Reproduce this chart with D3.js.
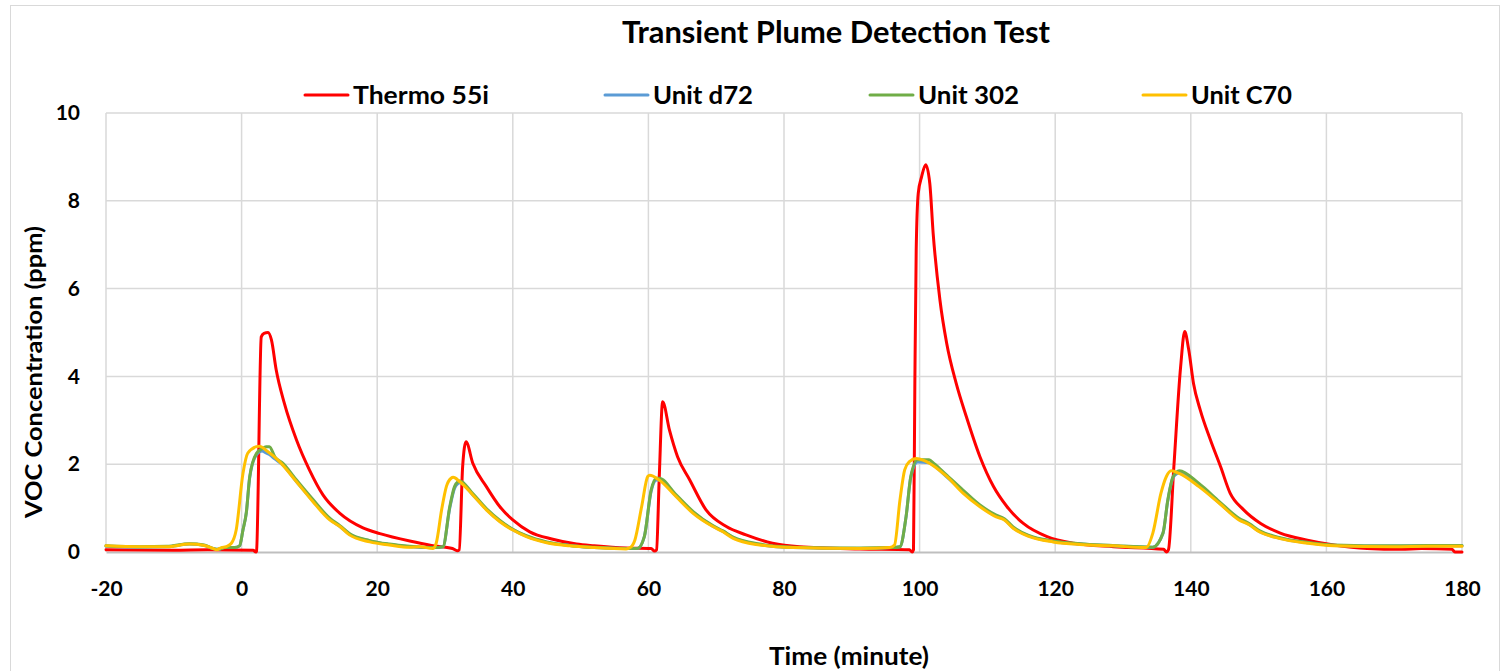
<!DOCTYPE html>
<html>
<head>
<meta charset="utf-8">
<script src="https://cdn.jsdelivr.net/npm/d3@7"></script>
<style>
  html, body { margin: 0; padding: 0; background: #fff; }
  svg { display: block; font-family: Lato, "Open Sans", sans-serif; }
</style>
</head>
<body>
<svg id="chart" width="1502" height="671"></svg>
<script>
// ---------------- DATA ----------------
const chartTitle = "Transient Plume Detection Test";
const xAxisTitle = "Time (minute)";
const yAxisTitle = "VOC Concentration (ppm)";
const xTicks = [-20, 0, 20, 40, 60, 80, 100, 120, 140, 160, 180];
const yTicks = [0, 2, 4, 6, 8, 10];
const seriesNames = ["Thermo 55i", "Unit d72", "Unit 302", "Unit C70"];
const seriesColors = ["#ff0000", "#5b9bd5", "#70ad47", "#ffc000"];

const thermoTime = [-20,-10,-5,1.7,2.1,2.2,2.9,3.3,3.9,4.4,5.1,6.3,8.1,10,12,14.5,17.9,20.4,24.8,28,31.1,31.8,32.1,32.6,33.1,34.1,36.1,38.1,40,42.5,45.9,49.4,52,56.7,60.4,60.9,61.2,61.6,62.1,63.1,64.3,66.1,68.5,71.5,74.4,78.3,82.3,91.2,98.5,98.9,99.1,99.3,99.5,99.8,100.3,100.9,101.5,102,103,104,105.4,106.9,108.9,110.9,112.9,115.3,118.8,122.7,128.6,136,136.4,136.7,137.5,138.5,139.1,139.7,140.4,141.4,142.9,144.4,145.8,147.8,150.3,153.2,157.2,161.1,166,171,174,178.5,179,180];
const thermoValue = [0.05,0.04,0.05,0.04,0.0,0.02,4.9,4.98,5.0,4.83,4.15,3.39,2.55,1.87,1.3,0.88,0.55,0.42,0.25,0.15,0.08,0.03,0.05,1.94,2.51,2.02,1.49,1.03,0.73,0.46,0.29,0.18,0.14,0.09,0.08,0.02,0.05,1.7,3.42,2.78,2.17,1.64,0.96,0.58,0.39,0.2,0.12,0.07,0.05,0.0,0.05,3.85,6.88,8.17,8.55,8.82,8.4,7.26,5.74,4.75,3.84,3.08,2.17,1.49,1.03,0.65,0.35,0.2,0.12,0.06,0.0,0.05,1.94,4.22,5.02,4.6,3.84,3.23,2.55,1.94,1.34,0.96,0.65,0.43,0.27,0.16,0.08,0.06,0.08,0.06,0.0,0.0];

const d72Time = [-20,-15,-11,-7.7,-5.5,-4.2,-3.5,-2.5,-1.0,-0.3,0.2,0.7,1.2,2.2,3.0,3.6,4.1,4.9,6.1,8.1,10.5,13,14.5,15.9,18.9,21.8,24.8,28.5,29.7,30.7,31.4,31.9,32.2,34.1,36.1,38.1,40,42,45,48.4,52,57,58.4,59.4,60.4,61.2,61.6,64.1,66.6,69.5,71,72.5,76.4,81.3,91.2,96,97.1,98,98.7,99.7,101.4,102.1,104,106.4,108.9,111.3,112.5,113.8,116.2,119.7,123.6,128.5,134.4,135.9,136.6,137.4,138.3,141.2,144.2,147.1,148.6,150.1,153,157.2,161.1,170,175,180];
const d72Value = [0.13,0.11,0.12,0.18,0.15,0.08,0.06,0.1,0.1,0.14,0.5,0.9,1.7,2.22,2.3,2.26,2.22,2.12,1.98,1.6,1.17,0.75,0.58,0.41,0.25,0.17,0.12,0.1,0.12,1.0,1.45,1.56,1.58,1.3,0.97,0.7,0.51,0.36,0.22,0.15,0.1,0.08,0.08,0.35,1.38,1.64,1.64,1.27,0.9,0.59,0.47,0.33,0.17,0.1,0.08,0.1,0.12,0.8,1.7,2.05,2.03,1.97,1.71,1.38,1.05,0.82,0.74,0.55,0.36,0.24,0.18,0.14,0.11,0.43,1.16,1.7,1.8,1.52,1.12,0.75,0.63,0.47,0.32,0.21,0.15,0.13,0.14,0.14];

const u302Time = [-20,-15,-11,-7.7,-5.5,-4.2,-3.5,-2.5,-1.0,-0.3,0.2,0.7,1.2,2.2,3.0,3.6,4.1,4.9,6.1,8.1,10.5,13,14.5,15.9,18.9,21.8,24.8,28.5,29.7,30.7,31.4,31.9,32.2,34.1,36.1,38.1,40,42,45,48.4,52,57,58.4,59.4,60.4,61.2,61.6,64.1,66.6,69.5,71,72.5,76.4,81.3,91.2,96,97.1,98,98.7,99.7,101.4,102.1,104,106.4,108.9,111.3,112.5,113.8,116.2,119.7,123.6,128.5,134.4,135.9,136.6,137.4,138.3,141.2,144.2,147.1,148.6,150.1,153,157.2,161.1,170,175,180];
const u302Value = [0.14,0.12,0.13,0.19,0.16,0.08,0.06,0.1,0.1,0.14,0.5,0.9,1.72,2.25,2.35,2.4,2.4,2.17,2.02,1.64,1.2,0.77,0.6,0.42,0.26,0.18,0.13,0.1,0.12,1.03,1.49,1.6,1.62,1.33,0.99,0.72,0.52,0.37,0.23,0.15,0.11,0.08,0.08,0.35,1.41,1.68,1.68,1.3,0.92,0.6,0.48,0.34,0.18,0.11,0.09,0.1,0.12,0.8,1.72,2.1,2.1,2.02,1.75,1.41,1.07,0.84,0.76,0.57,0.37,0.25,0.19,0.15,0.11,0.43,1.18,1.72,1.85,1.56,1.15,0.77,0.65,0.49,0.33,0.22,0.16,0.14,0.15,0.15];

const c70Time = [-20,-15,-11,-7.7,-5.5,-4.2,-3.7,-3,-2.3,-1.5,-0.8,0.2,0.9,2.2,2.65,3.6,5.6,8.1,10.5,13,14.5,15.9,18.9,21.8,24.8,26.3,28.2,28.7,29.5,30.2,30.9,31.2,32.2,34.1,36.1,38.1,40,42,45,48.4,52,56.7,57.3,58.0,59.0,59.9,60.2,61.6,64.1,66.6,69.5,71,72.5,76.4,81.3,91.2,95.6,96.3,97.1,97.8,98.5,99.5,101,104,106.4,108.9,111.3,112.5,113.8,116.2,119.7,123.6,128.5,133.4,134.4,135.6,136.4,137.1,138.3,141.2,144.2,147.1,148.6,150.1,153,157.2,161.1,170,175,180];
const c70Value = [0.14,0.12,0.12,0.18,0.15,0.08,0.05,0.1,0.12,0.2,0.5,1.79,2.25,2.4,2.41,2.32,2.06,1.6,1.15,0.73,0.58,0.39,0.23,0.16,0.11,0.12,0.08,0.2,0.96,1.49,1.68,1.7,1.6,1.3,0.96,0.69,0.5,0.35,0.21,0.14,0.1,0.07,0.1,0.27,1.03,1.72,1.75,1.64,1.26,0.88,0.58,0.46,0.31,0.16,0.1,0.08,0.1,0.16,1.18,1.87,2.06,2.13,2.06,1.72,1.34,1.03,0.8,0.73,0.54,0.35,0.23,0.17,0.14,0.1,0.43,1.34,1.72,1.85,1.79,1.49,1.11,0.73,0.62,0.46,0.31,0.2,0.14,0.12,0.13,0.13];

// ---------------- CHART ----------------
const svg = d3.select("#chart");
const plot = { left: 106, right: 1462, top: 113, bottom: 552 };

// outer chart border
svg.append("rect")
  .attr("x", 10.5).attr("y", 5.5)
  .attr("width", 1489).attr("height", 700)
  .attr("fill", "#fff").attr("stroke", "#d9d9d9").attr("stroke-width", 1);

const x = d3.scaleLinear().domain([-20, 180]).range([plot.left, plot.right]);
const y = d3.scaleLinear().domain([0, 10]).range([plot.bottom, plot.top]);

// gridlines
const grid = svg.append("g");
grid.selectAll("line.h").data(yTicks.filter(d => d > 0)).join("line")
  .attr("x1", plot.left).attr("x2", plot.right)
  .attr("y1", d => y(d)).attr("y2", d => y(d))
  .attr("stroke", "#d9d9d9").attr("stroke-width", 1.5);
grid.selectAll("line.v").data(xTicks).join("line")
  .attr("x1", d => x(d)).attr("x2", d => x(d))
  .attr("y1", plot.top).attr("y2", plot.bottom)
  .attr("stroke", "#d9d9d9").attr("stroke-width", 1.5);

// x axis (line at 0 + labels)
const xAxis = d3.axisBottom(x).tickValues(xTicks).tickSize(0).tickPadding(29).tickFormat(d => String(d));
const gx = svg.append("g").attr("transform", `translate(0,${plot.bottom})`).call(xAxis);
gx.select(".domain").attr("stroke", "#bfbfbf").attr("stroke-width", 2.2);
gx.selectAll("text").attr("font-size", 21).attr("font-weight", 700).attr("fill", "#000")
  .attr("font-family", "Lato, sans-serif");

// y axis labels
const yAxis = d3.axisLeft(y).tickValues(yTicks).tickSize(0).tickPadding(26).tickFormat(d => String(d));
const gy = svg.append("g").attr("transform", `translate(${plot.left},0)`).call(yAxis);
gy.select(".domain").remove();
gy.selectAll("text").attr("font-size", 21).attr("font-weight", 700).attr("fill", "#000")
  .attr("font-family", "Lato, sans-serif");

// series
const series = [
  { name: seriesNames[0], color: seriesColors[0], t: thermoTime, v: thermoValue },
  { name: seriesNames[1], color: seriesColors[1], t: d72Time, v: d72Value },
  { name: seriesNames[2], color: seriesColors[2], t: u302Time, v: u302Value },
  { name: seriesNames[3], color: seriesColors[3], t: c70Time, v: c70Value }
];
const line = d3.line().x(d => x(d[0])).y(d => y(d[1])).curve(d3.curveMonotoneX);
svg.append("g").selectAll("path").data(series).join("path")
  .attr("d", s => line(s.t.map((t, i) => [t, s.v[i]])))
  .attr("fill", "none")
  .attr("stroke", s => s.color)
  .attr("stroke-width", 3)
  .attr("stroke-linejoin", "round")
  .attr("stroke-linecap", "round");

// title
svg.append("text").attr("x", 836).attr("y", 43).attr("text-anchor", "middle")
  .attr("font-size", 30).attr("font-weight", 700).attr("fill", "#000")
  .attr("textLength", 428).attr("lengthAdjust", "spacingAndGlyphs").text(chartTitle);

// legend
const legendX = [305, 605, 870, 1143];
const legendW = [136, 100, 101, 101];
const lg = svg.append("g").selectAll("g").data(series).join("g")
  .attr("transform", (d, i) => `translate(${legendX[i]},95)`);
lg.append("line").attr("x1", 0).attr("x2", 43).attr("y1", 0).attr("y2", 0)
  .attr("stroke", d => d.color).attr("stroke-width", 3).attr("stroke-linecap", "round");
lg.append("text").attr("x", 48).attr("y", 9).attr("font-size", 25).attr("font-weight", 700)
  .attr("fill", "#000")
  .attr("textLength", (d, i) => legendW[i]).attr("lengthAdjust", "spacingAndGlyphs")
  .text(d => d.name);

// axis titles
svg.append("text").attr("x", 849).attr("y", 665).attr("text-anchor", "middle")
  .attr("font-size", 25).attr("font-weight", 700).attr("fill", "#000")
  .attr("textLength", 160).attr("lengthAdjust", "spacingAndGlyphs").text(xAxisTitle);
svg.append("text").attr("transform", "translate(42,372) rotate(-90)").attr("text-anchor", "middle")
  .attr("font-size", 22).attr("font-weight", 700).attr("fill", "#000")
  .attr("textLength", 292).attr("lengthAdjust", "spacingAndGlyphs").text(yAxisTitle);
</script>
</body>
</html>
